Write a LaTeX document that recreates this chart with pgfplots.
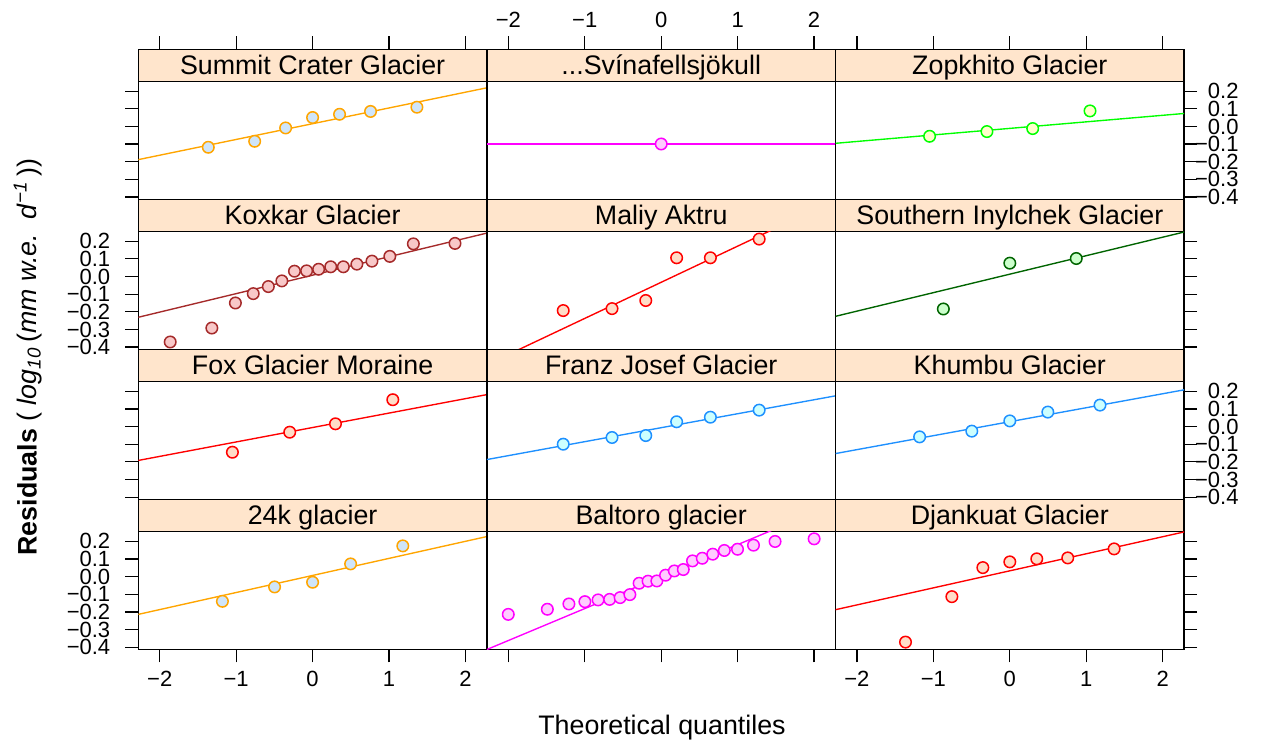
\documentclass[border=0pt]{standalone}
\usepackage{fontspec}
\setmainfont{Liberation Sans}
\usepackage{pgfplots}
\pgfplotsset{compat=1.18}
\definecolor{stripbg}{HTML}{FFE5CC}
\definecolor{cOrange}{HTML}{FFA500}\definecolor{fBlue}{HTML}{CFE5FA}
\definecolor{cMag}{HTML}{FF00FF}\definecolor{fMag}{HTML}{FFCCFF}
\definecolor{cGreen}{HTML}{00FF00}\definecolor{fYellow}{HTML}{FFFFCC}
\definecolor{cBrown}{HTML}{A52A2A}\definecolor{fPink}{HTML}{F8C8C8}
\definecolor{cRed}{HTML}{FF0000}\definecolor{fPeach}{HTML}{FFDDC8}
\definecolor{cDkGreen}{HTML}{006400}\definecolor{fLtGreen}{HTML}{CCFFCC}
\definecolor{cDodger}{HTML}{1E90FF}\definecolor{fCyan}{HTML}{CCFFFF}
\pgfplotsset{
  common/.style={width=139.44pt, scale only axis, anchor=south west,
    xmin=-2.28, xmax=2.28, axis line style={line width=0.5pt},
    xtick=\empty, ytick=\empty, tick align=outside, major tick length=5.2pt,
    every tick/.style={black, line width=0.5pt},
    tick label style={font=\fontsize{8.8}{10}\selectfont}},
  panel/.style={common, height=47.2pt, ymin=-0.4125, ymax=0.256},
  strip/.style={common, height=12.8pt, ymin=0, ymax=1,
    axis background/.style={fill=stripbg}},
  xt/.style={xtick={-2,-1,0,1,2}, xticklabels={,,,,}},
  xtl/.style={xtick={-2,-1,0,1,2}, xticklabels={−2,−1,0,1,2}},
  yt/.style={ytick={-0.4,-0.3,-0.2,-0.1,0,0.1,0.2}, yticklabels={,,,,,,}},
  ytl/.style={ytick={-0.4,-0.3,-0.2,-0.1,0,0.1,0.2},
    yticklabels={−0.4,−0.3,−0.2,−0.1,0.0,0.1,0.2}},
  yleft/.style={ytick pos=left, yticklabel style={xshift=-2.5pt, inner ysep=0pt}},
  yright/.style={ytick pos=right, yticklabel pos=right,
    yticklabel style={anchor=east, xshift=20.1pt, inner ysep=0pt}},
  pts/.style 2 args={only marks, mark=*, mark size=2.3pt,
    mark options={draw=#1, fill=#2, line width=0.6pt}},
  fit/.style={#1, line width=0.55pt, no marks},
}
\newcommand{\striplabel}[1]{\node[anchor=base, font=\fontsize{10.72}{12}\selectfont] at (rel axis cs:0.5,0.21) {#1};}
\begin{document}
\begin{tikzpicture}
\useasboundingbox (0,0) rectangle (506pt,298.4pt);
% ---------------- row 0 ----------------
\begin{axis}[strip, at={(55.32pt,265.90pt)}, xt, xtick pos=right]
\striplabel{Summit Crater Glacier}
\end{axis}
\begin{axis}[panel, at={(55.32pt,218.70pt)}, yt, yleft]
\addplot[fit=cOrange] coordinates {(-2.28,-0.188) (2.28,0.219)};
\addplot[pts={cOrange}{fBlue}] coordinates {(-1.3644,-0.118) (-0.7578,-0.084) (-0.3527,-0.0085) (0,0.0505) (0.3527,0.069) (0.7578,0.085) (1.3644,0.109)};
\end{axis}
\begin{axis}[strip, at={(194.76pt,265.90pt)}, xtl, xtick pos=right, xticklabel pos=right]
\striplabel{...Svínafellsjökull}
\end{axis}
\begin{axis}[panel, at={(194.76pt,218.70pt)}]
\addplot[fit=cMag] coordinates {(-2.28,-0.0994) (2.28,-0.0994)};
\addplot[pts={cMag}{fMag}] coordinates {(0,-0.0994)};
\end{axis}
\begin{axis}[strip, at={(334.20pt,265.90pt)}, xt, xtick pos=right]
\striplabel{Zopkhito Glacier}
\end{axis}
\begin{axis}[panel, at={(334.20pt,218.70pt)}, ytl, yright]
\addplot[fit=cGreen] coordinates {(-2.28,-0.0955) (2.28,0.0735)};
\addplot[pts={cGreen}{fYellow}] coordinates {(-1.0491,-0.0557) (-0.2993,-0.029) (0.2993,-0.012) (1.0491,0.088)};
\end{axis}
% ---------------- row 1 ----------------
\begin{axis}[strip, at={(55.32pt,205.88pt)}]
\striplabel{Koxkar Glacier}
\end{axis}
\begin{axis}[panel, at={(55.32pt,158.68pt)}, ytl, yleft]
\addplot[fit=cBrown] coordinates {(-2.28,-0.231) (2.28,0.246)};
\addplot[pts={cBrown}{fPink}] coordinates {(-1.8627,-0.371) (-1.3180,-0.292) (-1.0100,-0.150) (-0.7764,-0.097) (-0.5791,-0.057) (-0.4023,-0.025) (-0.2372,0.030) (-0.0784,0.032) (0.0784,0.041) (0.2372,0.055) (0.4023,0.055) (0.5791,0.070) (0.7764,0.087) (1.0100,0.114) (1.3180,0.185) (1.8627,0.1875)};
\end{axis}
\begin{axis}[strip, at={(194.76pt,205.88pt)}]
\striplabel{Maliy Aktru}
\end{axis}
\begin{axis}[panel, at={(194.76pt,158.68pt)}]
\addplot[fit=cRed] coordinates {(-2.28,-0.4995) (2.28,0.434)};
\addplot[pts={cRed}{fPeach}] coordinates {(-1.2816,-0.193) (-0.6433,-0.182) (-0.2019,-0.136) (0.2019,0.106) (0.6433,0.106) (1.2816,0.212)};
\end{axis}
\begin{axis}[strip, at={(334.20pt,205.88pt)}]
\striplabel{Southern Inylchek Glacier}
\end{axis}
\begin{axis}[panel, at={(334.20pt,158.68pt)}, yt, yright]
\addplot[fit=cDkGreen] coordinates {(-2.28,-0.2256) (2.28,0.252)};
\addplot[pts={cDkGreen}{fLtGreen}] coordinates {(-0.8694,-0.184) (0,0.0756) (0.8694,0.102)};
\end{axis}
% ---------------- row 2 ----------------
\begin{axis}[strip, at={(55.32pt,145.86pt)}]
\striplabel{Fox Glacier Moraine}
\end{axis}
\begin{axis}[panel, at={(55.32pt,98.66pt)}, yt, yleft]
\addplot[fit=cRed] coordinates {(-2.28,-0.192) (2.28,0.181)};
\addplot[pts={cRed}{fPeach}] coordinates {(-1.0491,-0.1455) (-0.2993,-0.032) (0.2993,0.0155) (1.0491,0.152)};
\end{axis}
\begin{axis}[strip, at={(194.76pt,145.86pt)}]
\striplabel{Franz Josef Glacier}
\end{axis}
\begin{axis}[panel, at={(194.76pt,98.66pt)}]
\addplot[fit=cDodger] coordinates {(-2.28,-0.187) (2.28,0.174)};
\addplot[pts={cDodger}{fCyan}] coordinates {(-1.2816,-0.100) (-0.6433,-0.062) (-0.2019,-0.051) (0.2019,0.027) (0.6433,0.053) (1.2816,0.093)};
\end{axis}
\begin{axis}[strip, at={(334.20pt,145.86pt)}]
\striplabel{Khumbu Glacier}
\end{axis}
\begin{axis}[panel, at={(334.20pt,98.66pt)}, ytl, yright]
\addplot[fit=cDodger] coordinates {(-2.28,-0.153) (2.28,0.208)};
\addplot[pts={cDodger}{fCyan}] coordinates {(-1.1798,-0.0585) (-0.4972,-0.026) (0,0.032) (0.4972,0.082) (1.1798,0.1216)};
\end{axis}
% ---------------- row 3 ----------------
\begin{axis}[strip, at={(55.32pt,85.84pt)}]
\striplabel{24k glacier}
\end{axis}
\begin{axis}[panel, at={(55.32pt,38.64pt)}, ytl, yleft, xtl, xtick pos=left]
\addplot[fit=cOrange] coordinates {(-2.28,-0.214) (2.28,0.227)};
\addplot[pts={cOrange}{fBlue}] coordinates {(-1.1798,-0.140) (-0.4972,-0.0585) (0,-0.032) (0.4972,0.072) (1.1798,0.174)};
\end{axis}
\begin{axis}[strip, at={(194.76pt,85.84pt)}]
\striplabel{Baltoro glacier}
\end{axis}
\begin{axis}[panel, at={(194.76pt,38.64pt)}, xt, xtick pos=left]
\addplot[fit=cMag] coordinates {(-2.28,-0.413) (2.28,0.413)};
\addplot[pts={cMag}{fMag}] coordinates {(-2.0004,-0.214) (-1.4894,-0.185) (-1.2072,-0.155) (-0.9983,-0.142) (-0.8256,-0.132) (-0.6745,-0.129) (-0.5372,-0.119) (-0.4097,-0.102) (-0.2890,-0.0377) (-0.1718,-0.026) (-0.0570,-0.0246) (0.0570,0.008) (0.1718,0.032) (0.2890,0.040) (0.4097,0.089) (0.5372,0.104) (0.6745,0.127) (0.8256,0.148) (0.9983,0.155) (1.2072,0.178) (1.4894,0.199) (2.0004,0.214)};
\end{axis}
\begin{axis}[strip, at={(334.20pt,85.84pt)}]
\striplabel{Djankuat Glacier}
\end{axis}
\begin{axis}[panel, at={(334.20pt,38.64pt)}, yt, yright, xtl, xtick pos=left]
\addplot[fit=cRed] coordinates {(-2.28,-0.1875) (2.28,0.253)};
\addplot[pts={cRed}{fPeach}] coordinates {(-1.3644,-0.371) (-0.7578,-0.1136) (-0.3527,0.051) (0,0.0835) (0.3527,0.1006) (0.7578,0.106) (1.3644,0.157)};
\end{axis}
% ---------------- axis titles ----------------
\node[font=\fontsize{10.72}{12}\selectfont] at (264.8pt,7.2pt) {Theoretical quantiles};
\node[font=\fontsize{10.72}{12}\selectfont, rotate=90] at (11.2pt,155.6pt)
  {\textbf{Residuals} ( \textit{log}\textsubscript{\textit{10}}\,(\textit{mm w.e.}\ \ \textit{d}\textsuperscript{\textit{−1}}\,))};
\end{tikzpicture}
\end{document}
